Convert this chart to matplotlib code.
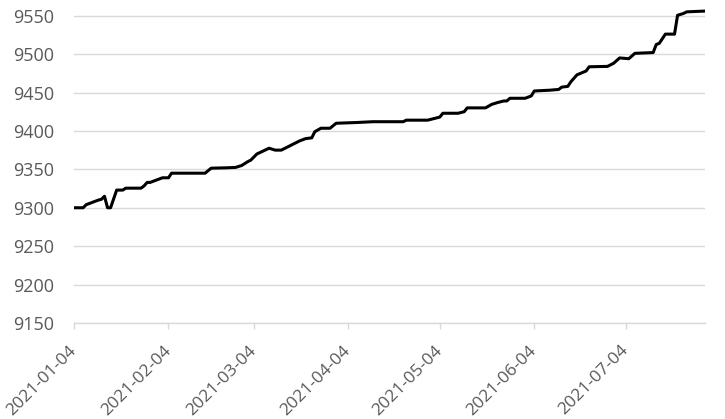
import pandas as pd
import matplotlib
matplotlib.use("Agg")
import matplotlib.pyplot as plt
import matplotlib.dates as mdates

# ------------------------------------------------------------------------------
# Data (breakpoints of the step-like series)
# ------------------------------------------------------------------------------
dates = [
    "2021-01-04", "2021-01-07", "2021-01-08", "2021-01-10", "2021-01-12",
    "2021-01-13", "2021-01-14", "2021-01-15", "2021-01-16", "2021-01-18",
    "2021-01-20", "2021-01-21", "2021-01-26", "2021-01-27", "2021-01-28",
    "2021-01-29", "2021-01-31", "2021-02-02", "2021-02-04", "2021-02-05",
    "2021-02-16", "2021-02-18", "2021-02-23", "2021-02-26", "2021-02-28",
    "2021-03-02", "2021-03-03", "2021-03-05", "2021-03-09", "2021-03-11",
    "2021-03-13", "2021-03-15", "2021-03-17", "2021-03-19", "2021-03-21",
    "2021-03-23", "2021-03-24", "2021-03-26", "2021-03-29", "2021-03-31",
    "2021-04-07", "2021-04-12", "2021-04-22", "2021-04-23", "2021-04-30",
    "2021-05-04", "2021-05-05", "2021-05-10", "2021-05-12", "2021-05-13",
    "2021-05-19", "2021-05-21", "2021-05-23", "2021-05-25", "2021-05-26",
    "2021-05-27", "2021-06-01", "2021-06-03", "2021-06-04", "2021-06-09",
    "2021-06-12", "2021-06-13", "2021-06-15", "2021-06-16", "2021-06-18",
    "2021-06-21", "2021-06-22", "2021-06-28", "2021-06-30", "2021-07-02",
    "2021-07-05", "2021-07-07", "2021-07-13", "2021-07-14", "2021-07-15",
    "2021-07-17", "2021-07-20", "2021-07-21", "2021-07-23", "2021-07-24",
    "2021-07-30",
]
values = [
    9300, 9300, 9304, 9307, 9310,
    9311, 9315, 9300, 9300, 9323,
    9323, 9325.5, 9325.5, 9328.5, 9333,
    9333, 9336, 9339, 9339, 9345,
    9345, 9351.5, 9352, 9352.5, 9355,
    9360, 9362, 9370, 9377.5, 9375,
    9375, 9379, 9383, 9387, 9390,
    9391, 9399, 9403.5, 9403.5, 9410,
    9411, 9412, 9412, 9414, 9414,
    9418, 9423, 9423, 9425, 9430,
    9430, 9434.5, 9437, 9439, 9439,
    9442.5, 9442.5, 9445.5, 9452, 9453,
    9454, 9457, 9458, 9464, 9473,
    9478, 9483.5, 9484, 9488, 9495,
    9494, 9501, 9502, 9512.5, 9514,
    9526, 9526, 9550.5, 9553, 9555,
    9556,
]
tick_dates = ["2021-01-04", "2021-02-04", "2021-03-04", "2021-04-04",
              "2021-05-04", "2021-06-04", "2021-07-04"]
y_ticks = [9150, 9200, 9250, 9300, 9350, 9400, 9450, 9500, 9550]

# ------------------------------------------------------------------------------
# Plot
# ------------------------------------------------------------------------------
plt.rcParams["font.family"] = ["Open Sans", "DejaVu Sans"]
text_color = "#595959"
grid_color = "#d9d9d9"

x = pd.to_datetime(dates)
ticks = pd.to_datetime(tick_dates)

fig = plt.figure(figsize=(7.25, 4.19), dpi=100)
ax = fig.add_axes([74 / 725, 96 / 419, 631 / 725, 315 / 419])

ax.plot(x, values, color="black", linewidth=2.2, solid_joinstyle="round", zorder=3)

ax.set_xlim(x[0], x[-1])
ax.set_ylim(9150, 9560)
ax.set_yticks(y_ticks)
ax.set_xticks(ticks)
ax.xaxis.set_major_formatter(mdates.DateFormatter("%Y-%m-%d"))

ax.grid(axis="y", color=grid_color, linewidth=1.0, zorder=0)
ax.grid(axis="x", visible=False)
for side in ["top", "right", "left"]:
    ax.spines[side].set_visible(False)
ax.spines["bottom"].set_color(grid_color)
ax.spines["bottom"].set_linewidth(1.0)

ax.tick_params(axis="y", length=0, pad=14, labelsize=13, labelcolor=text_color)
ax.tick_params(axis="x", length=4, width=1.0, color=grid_color, pad=14,
               labelsize=12.5, labelcolor=text_color)
for lbl in ax.get_xticklabels():
    lbl.set_rotation(45)
    lbl.set_ha("right")
    lbl.set_va("center")
    lbl.set_rotation_mode("anchor")

fig.savefig("out.png", dpi=100)
